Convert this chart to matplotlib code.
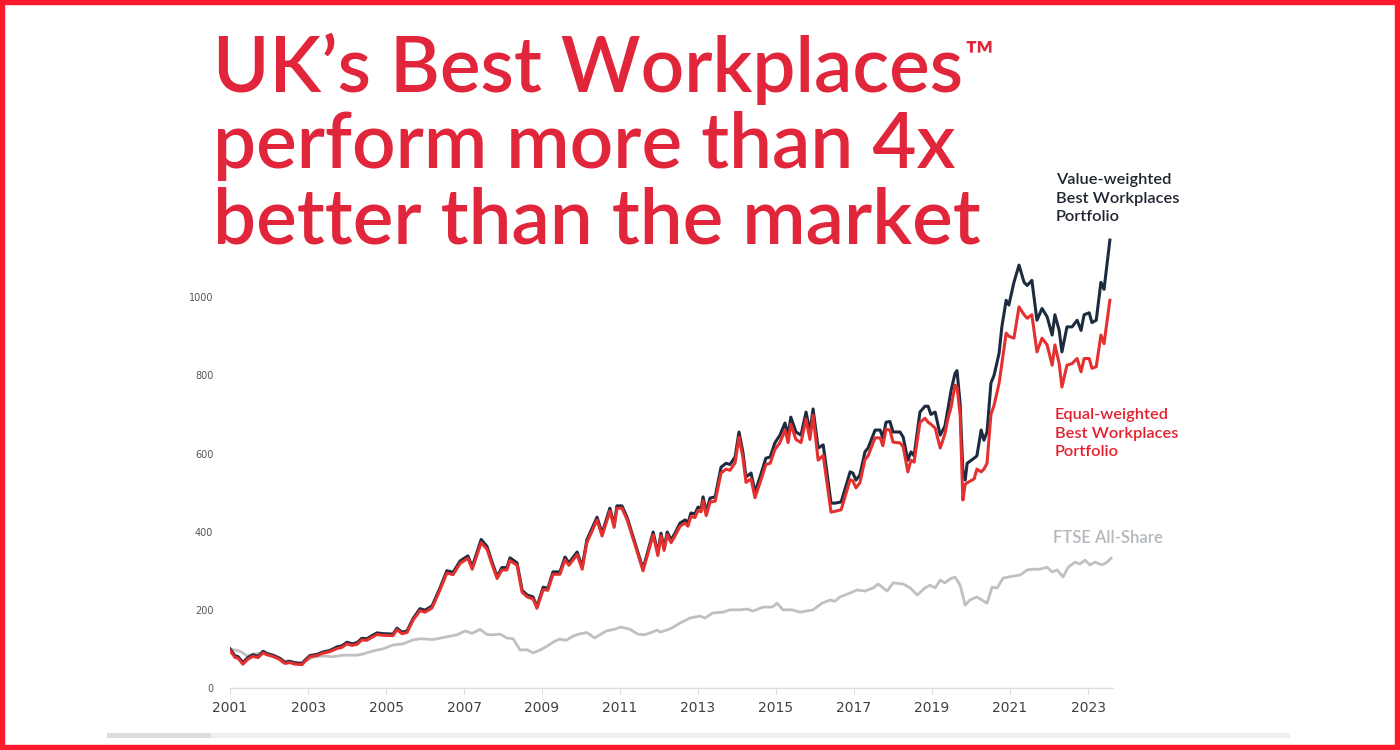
import matplotlib.pyplot as plt
from matplotlib.patches import Rectangle

title_red = '#E1253A'
navy = '#1C2B3F'
red = '#E4302F'
grey = '#C0C0C0'

# portfolio dates (decimal years) shared by both Best Workplaces series
port_dates = [
    2001.00, 2001.13, 2001.21, 2001.33, 2001.46, 2001.59, 2001.72, 2001.85, 2001.95,
    2002.10, 2002.28, 2002.41, 2002.54, 2002.67, 2002.85, 2002.92, 2003.05, 2003.23,
    2003.38, 2003.56, 2003.74, 2003.87, 2004.00, 2004.13, 2004.26, 2004.38, 2004.51,
    2004.64, 2004.77, 2004.92, 2005.18, 2005.28, 2005.41, 2005.54, 2005.69, 2005.87,
    2006.00, 2006.18, 2006.38, 2006.56, 2006.72, 2006.90, 2007.10, 2007.21, 2007.44,
    2007.59, 2007.72, 2007.85, 2007.97, 2008.10, 2008.18, 2008.36, 2008.49, 2008.62,
    2008.77, 2008.87, 2009.03, 2009.15, 2009.28, 2009.46, 2009.59, 2009.69, 2009.90,
    2010.03, 2010.15, 2010.41, 2010.54, 2010.74, 2010.85, 2010.92, 2011.05, 2011.18,
    2011.38, 2011.59, 2011.85, 2011.97, 2012.05, 2012.13, 2012.21, 2012.31, 2012.41,
    2012.54, 2012.67, 2012.74, 2012.82, 2012.92, 2013.00, 2013.08, 2013.13, 2013.21,
    2013.31, 2013.44, 2013.59, 2013.72, 2013.82, 2013.95, 2014.05, 2014.15, 2014.23,
    2014.36, 2014.46, 2014.59, 2014.74, 2014.85, 2014.97, 2015.10, 2015.23, 2015.31,
    2015.38, 2015.51, 2015.64, 2015.77, 2015.87, 2015.95, 2016.08, 2016.21, 2016.41,
    2016.51, 2016.67, 2016.90, 2016.97, 2017.05, 2017.15, 2017.28, 2017.36, 2017.54,
    2017.67, 2017.74, 2017.82, 2017.92, 2018.00, 2018.18, 2018.26, 2018.38, 2018.46,
    2018.54, 2018.69, 2018.82, 2018.90, 2018.97, 2019.08, 2019.21, 2019.33, 2019.41,
    2019.49, 2019.59, 2019.64, 2019.72, 2019.79, 2019.85, 2019.90, 2020.08, 2020.15,
    2020.26, 2020.33, 2020.41, 2020.51, 2020.59, 2020.72, 2020.79, 2020.90, 2020.97,
    2021.10, 2021.23, 2021.36, 2021.44, 2021.56, 2021.69, 2021.82, 2021.95, 2022.08,
    2022.15, 2022.26, 2022.33, 2022.46, 2022.59, 2022.72, 2022.82, 2022.90, 2023.03,
    2023.10, 2023.21, 2023.33, 2023.41, 2023.56,
]

value_weighted = [
    100, 82, 80, 65, 78, 85, 81, 94, 88,
    84, 76, 66, 68, 64, 63, 71, 83, 86,
    92, 96, 105, 108, 117, 113, 116, 127, 126,
    134, 141, 139, 138, 153, 143, 146, 177, 203,
    199, 210, 255, 300, 296, 325, 338, 310, 380,
    362, 322, 285, 308, 308, 333, 320, 250, 238,
    233, 208, 258, 255, 297, 297, 335, 320, 348,
    310, 379, 437, 396, 460, 417, 466, 466, 437,
    373, 305, 399, 345, 396, 358, 399, 379, 396,
    422, 430, 422, 448, 445, 463, 460, 489, 450,
    486, 489, 565, 575, 572, 591, 655, 604, 540,
    550, 501, 540, 588, 591, 627, 647, 678, 647,
    693, 655, 647, 706, 655, 714, 614, 622, 473,
    473, 476, 553, 550, 532, 545, 604, 614, 660,
    660, 640, 680, 682, 655, 655, 642, 583, 604,
    594, 706, 721, 721, 700, 706, 647, 670, 715,
    762, 805, 812, 728, 557, 532, 575, 588, 594,
    660, 634, 655, 780, 800, 857, 924, 992, 980,
    1038, 1082, 1038, 1030, 1043, 941, 971, 950, 903,
    955, 915, 860, 924, 924, 941, 915, 955, 960,
    935, 941, 1038, 1020, 1146,
]

equal_weighted = [
    96, 78, 76, 61, 74, 81, 78, 90, 85,
    81, 73, 63, 65, 61, 60, 68, 80, 83,
    89, 93, 101, 104, 113, 109, 112, 123, 122,
    130, 137, 135, 134, 149, 139, 142, 173, 198,
    194, 205, 250, 294, 290, 319, 332, 304, 372,
    355, 316, 280, 302, 302, 326, 314, 245, 233,
    228, 204, 252, 250, 291, 291, 328, 314, 341,
    304, 372, 430, 389, 453, 411, 460, 460, 431,
    368, 300, 392, 339, 389, 352, 392, 372, 389,
    414, 422, 414, 439, 436, 454, 451, 479, 441,
    476, 478, 550, 560, 557, 576, 642, 590, 526,
    535, 487, 525, 572, 575, 610, 628, 660, 628,
    675, 636, 628, 688, 636, 698, 583, 595, 450,
    452, 456, 533, 530, 512, 525, 584, 594, 640,
    640, 620, 662, 660, 629, 627, 617, 553, 583,
    578, 680, 690, 680, 675, 665, 614, 650, 690,
    719, 775, 770, 700, 481, 521, 525, 535, 560,
    553, 560, 575, 700, 723, 780, 830, 908, 900,
    895, 975, 955, 946, 955, 860, 895, 878, 826,
    878, 830, 770, 826, 830, 843, 809, 843, 843,
    818, 822, 903, 881, 992,
]

ftse_dates = [
    2001.00, 2001.26, 2001.44, 2001.59, 2001.82, 2002.03, 2002.21, 2002.36, 2002.49,
    2002.67, 2002.85, 2002.97, 2003.13, 2003.38, 2003.64, 2003.90, 2004.26, 2004.41,
    2004.67, 2004.92, 2005.18, 2005.44, 2005.69, 2005.87, 2006.21, 2006.56, 2006.82,
    2007.03, 2007.21, 2007.41, 2007.59, 2007.74, 2007.92, 2008.10, 2008.26, 2008.44,
    2008.62, 2008.77, 2008.95, 2009.13, 2009.30, 2009.45, 2009.62, 2009.80, 2009.95,
    2010.15, 2010.35, 2010.45, 2010.65, 2010.85, 2011.02, 2011.26, 2011.45, 2011.62,
    2011.80, 2011.95, 2012.03, 2012.28, 2012.54, 2012.79, 2013.05, 2013.18, 2013.38,
    2013.64, 2013.82, 2014.08, 2014.26, 2014.41, 2014.67, 2014.90, 2015.03, 2015.18,
    2015.41, 2015.62, 2015.95, 2016.18, 2016.38, 2016.51, 2016.64, 2016.90, 2017.08,
    2017.28, 2017.49, 2017.62, 2017.85, 2018.00, 2018.26, 2018.44, 2018.62, 2018.82,
    2018.95, 2019.08, 2019.21, 2019.33, 2019.46, 2019.59, 2019.72, 2019.85, 2019.97,
    2020.15, 2020.28, 2020.41, 2020.54, 2020.67, 2020.82, 2021.05, 2021.26, 2021.44,
    2021.59, 2021.77, 2021.95, 2022.08, 2022.21, 2022.36, 2022.49, 2022.67, 2022.79,
    2022.92, 2023.05, 2023.18, 2023.36, 2023.49, 2023.59,
]

ftse_all_share = [
    100, 94, 82, 87, 89, 84, 77, 64, 70,
    66, 64, 71, 79, 82, 80, 84, 84, 87,
    95, 100, 110, 113, 123, 126, 124, 131, 136,
    146, 140, 150, 137, 136, 138, 128, 126, 97,
    98, 90, 97, 107, 118, 125, 122, 133, 138,
    142, 128, 134, 146, 150, 156, 150, 138, 136,
    142, 148, 143, 151, 166, 179, 184, 179, 192,
    194, 200, 200, 202, 197, 207, 207, 217, 200,
    200, 194, 200, 217, 225, 222, 233, 243, 251,
    248, 256, 266, 248, 269, 266, 256, 238, 256,
    263, 256, 276, 269, 279, 284, 263, 212, 225,
    233, 225, 217, 258, 256, 281, 286, 289, 302,
    304, 304, 309, 297, 302, 284, 309, 322, 317,
    327, 315, 322, 315, 322, 332,
]

x_ticks = [2001, 2003, 2005, 2007, 2009, 2011, 2013, 2015, 2017, 2019, 2021, 2023]
y_ticks = [0, 200, 400, 600, 800, 1000]

W, H = 1400, 750
fig = plt.figure(figsize=(14, 7.5), dpi=100)
fig.patch.set_facecolor('white')

ax = fig.add_axes([230 / W, 1 - 688 / H, 883 / W, 469 / H])
ax.set_facecolor('none')
ax.plot(ftse_dates, ftse_all_share, color=grey, lw=2.0, solid_joinstyle='round')
ax.plot(port_dates, value_weighted, color=navy, lw=2.2, solid_joinstyle='round')
ax.plot(port_dates, equal_weighted, color=red, lw=2.2, solid_joinstyle='round')

ax.set_xlim(2001, 2023.64)
ax.set_ylim(0, 1200)
ax.set_xticks(x_ticks)
ax.set_xticklabels([str(t) for t in x_ticks])
ax.set_yticks(y_ticks)
ax.set_yticklabels([str(t) for t in y_ticks])
for s in ['top', 'right', 'left']:
    ax.spines[s].set_visible(False)
ax.spines['bottom'].set_color('#DDDDDD')
ax.spines['bottom'].set_linewidth(1.0)
ax.tick_params(axis='x', length=4, color='#DDDDDD', labelsize=10, labelcolor='#404040', pad=5)
ax.tick_params(axis='y', length=0, labelsize=7, labelcolor='#555555', pad=12)

# title, the trade mark sign set smaller and raised after the first line
title_lines = ['UK\u2019s Best Workplaces', 'perform more than 4x', 'better than the market']
baselines = [92, 168, 243]
renderer = fig.canvas.get_renderer()
first = None
for line, yb in zip(title_lines, baselines):
    t = fig.text(213 / W, 1 - yb / H, line, fontsize=55, color=title_red, family='Lato',
                 weight='semibold', va='baseline', ha='left')
    if first is None:
        first = t
bb = first.get_window_extent(renderer)
fig.text((bb.x1 + 1) / W, 1 - 68 / H, '\u2122', fontsize=28, color=title_red, family='Lato',
         weight='semibold', va='baseline', ha='left')

# series labels
lab = dict(fontsize=11.8, family='Lato', weight='semibold', va='baseline', linespacing=1.4)
fig.text(1056 / W, 1 - 221 / H, 'Value-weighted\nBest Workplaces\nPortfolio', color='#1F2530', **lab)
fig.text(1055 / W, 1 - 456 / H, 'Equal-weighted\nBest Workplaces\nPortfolio', color='#E5202E', **lab)
fig.text(1053 / W, 1 - 543 / H, 'FTSE All-Share', fontsize=12, color='#B3B8BD', family='Lato',
         weight='semibold', va='baseline')

# faint strip at the bottom
fig.patches.append(Rectangle((107 / W, 1 - 738 / H), 104 / W, 5 / H, transform=fig.transFigure,
                             facecolor='#DDDDDD', edgecolor='none'))
fig.patches.append(Rectangle((211 / W, 1 - 738 / H), 1079 / W, 5 / H, transform=fig.transFigure,
                             facecolor='#EEEEEE', edgecolor='none'))

# red frame
fig.patches.append(Rectangle((0, 0), 1, 1, transform=fig.transFigure, fill=False,
                             edgecolor='#FF1A2E', linewidth=7.5))

fig.savefig('out.png', dpi=100)
plt.close()
